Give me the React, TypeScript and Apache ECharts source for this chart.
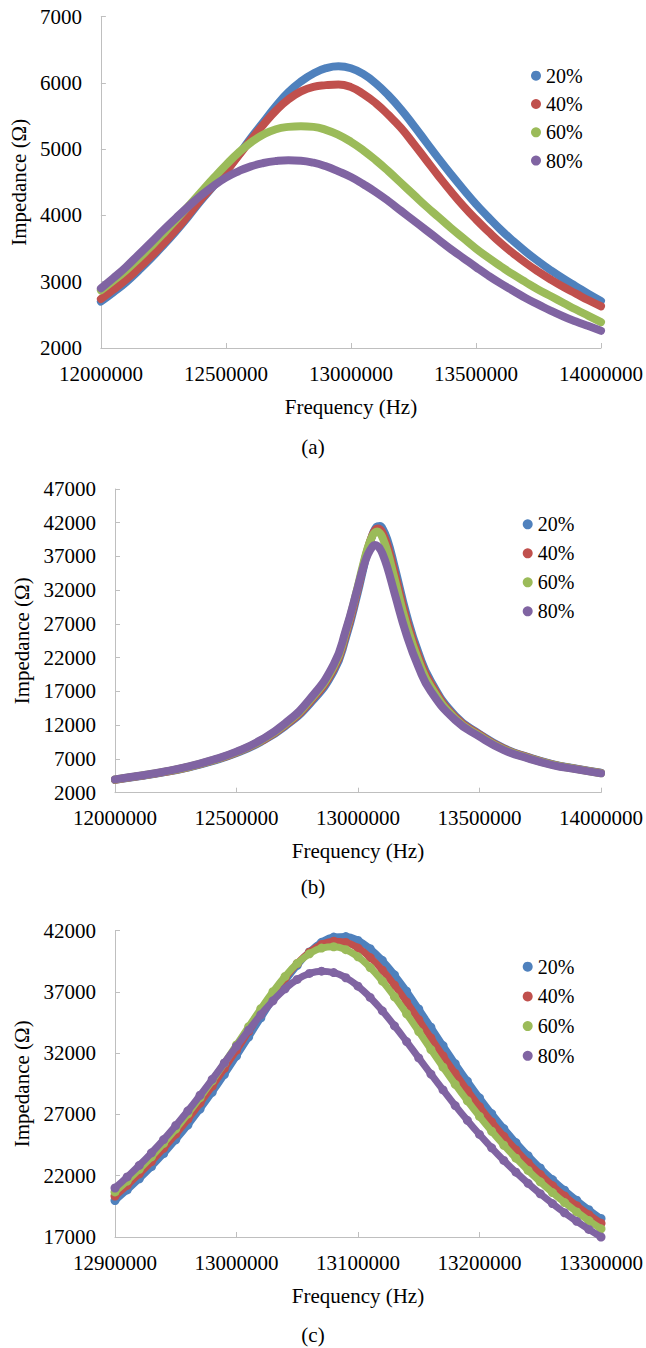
import React, { useEffect, useRef } from "react";
import * as echarts from "echarts";

const seriesNames = ["20%", "40%", "60%", "80%"];
const colors = ["#4f81bd", "#c0504d", "#9bbb59", "#8064a2"];
const panelLabels = ["(a)", "(b)", "(c)"];
const xTitle = "Frequency (Hz)";
const yTitle = "Impedance (Ω)";

// tick values
const xTicksAB = [12000000, 12500000, 13000000, 13500000, 14000000];
const xTicksC = [12900000, 13000000, 13100000, 13200000, 13300000];
const yTicksA = [2000, 3000, 4000, 5000, 6000, 7000];
const yTicksB = [2000, 7000, 12000, 17000, 22000, 27000, 32000, 37000, 42000, 47000];
const yTicksC = [17000, 22000, 27000, 32000, 37000, 42000];

// panel (a)
const freqA = [12000000, 12050000, 12100000, 12150000, 12200000, 12250000, 12300000, 12350000, 12400000, 12450000, 12500000, 12550000, 12600000, 12650000, 12700000, 12750000, 12800000, 12850000, 12900000, 12950000, 13000000, 13050000, 13100000, 13150000, 13200000, 13250000, 13300000, 13350000, 13400000, 13450000, 13500000, 13550000, 13600000, 13650000, 13700000, 13750000, 13800000, 13850000, 13900000, 13950000, 14000000];
const a20 = [2700, 2840, 2990, 3165, 3350, 3550, 3760, 3985, 4220, 4440, 4660, 4910, 5170, 5410, 5650, 5860, 6020, 6140, 6220, 6250, 6220, 6130, 5990, 5810, 5600, 5360, 5110, 4860, 4620, 4390, 4170, 3970, 3780, 3610, 3450, 3305, 3170, 3045, 2930, 2815, 2710];
const a40 = [2740, 2880, 3030, 3200, 3380, 3575, 3780, 4005, 4240, 4450, 4660, 4900, 5140, 5370, 5580, 5750, 5870, 5940, 5965, 5975, 5935, 5830, 5690, 5515, 5320, 5085, 4840, 4595, 4360, 4140, 3940, 3755, 3580, 3425, 3280, 3150, 3030, 2920, 2820, 2720, 2630];
const a60 = [2870, 3015, 3170, 3345, 3530, 3725, 3930, 4140, 4350, 4560, 4760, 4945, 5100, 5220, 5300, 5335, 5345, 5335, 5290, 5215, 5110, 4980, 4830, 4665, 4490, 4315, 4140, 3975, 3810, 3655, 3500, 3360, 3230, 3105, 2990, 2880, 2780, 2680, 2580, 2485, 2390];
const a80 = [2900, 3055, 3220, 3405, 3590, 3780, 3960, 4135, 4300, 4445, 4570, 4665, 4740, 4790, 4820, 4832, 4825, 4795, 4740, 4665, 4580, 4470, 4350, 4215, 4070, 3925, 3780, 3635, 3490, 3355, 3220, 3090, 2970, 2860, 2750, 2655, 2560, 2475, 2400, 2330, 2260];

// panel (b)
const freqB = [12000000, 12100000, 12200000, 12300000, 12400000, 12500000, 12600000, 12700000, 12800000, 12900000, 12950000, 13000000, 13020000, 13040000, 13060000, 13070000, 13080000, 13090000, 13100000, 13120000, 13150000, 13200000, 13250000, 13300000, 13400000, 13500000, 13600000, 13700000, 13800000, 13900000, 14000000];
const b20 = [3900, 4430, 5010, 5730, 6680, 7880, 9530, 11850, 15100, 19980, 24930, 31770, 34880, 37880, 40260, 41050, 41480, 41520, 41200, 39580, 35610, 28360, 22630, 18510, 13400, 10700, 8600, 7290, 6250, 5560, 4950];
const b40 = [3930, 4460, 5040, 5770, 6730, 7950, 9620, 11980, 15350, 20340, 25390, 32250, 35300, 38130, 40250, 40880, 41140, 41040, 40580, 38780, 34730, 27640, 22110, 18130, 13200, 10600, 8520, 7230, 6210, 5530, 4920];
const b60 = [3960, 4490, 5080, 5810, 6780, 8010, 9710, 12120, 15600, 20680, 25810, 32670, 35630, 38270, 40110, 40580, 40690, 40450, 39870, 37890, 33770, 26840, 21500, 17670, 13000, 10450, 8420, 7160, 6150, 5500, 4890];
const b80 = [3980, 4520, 5110, 5850, 6840, 8080, 9800, 12270, 15800, 21000, 26100, 32560, 35140, 37260, 38510, 38700, 38580, 38160, 37470, 35460, 31620, 25370, 20530, 17000, 12770, 10300, 8320, 7090, 6100, 5460, 4870];

// panel (c)
const freqC = [12900000, 12910000, 12920000, 12930000, 12940000, 12950000, 12960000, 12970000, 12980000, 12990000, 13000000, 13010000, 13020000, 13030000, 13040000, 13050000, 13060000, 13070000, 13080000, 13090000, 13100000, 13110000, 13120000, 13130000, 13140000, 13150000, 13160000, 13170000, 13180000, 13190000, 13200000, 13210000, 13220000, 13230000, 13240000, 13250000, 13260000, 13270000, 13280000, 13290000, 13300000];
const c20 = [19980, 20840, 21750, 22740, 23800, 24930, 26140, 27440, 28810, 30260, 31770, 33320, 34880, 36420, 37880, 39180, 40260, 41050, 41480, 41520, 41200, 40530, 39580, 38400, 37060, 35610, 34120, 32620, 31150, 29730, 28360, 27070, 25850, 24710, 23630, 22630, 21690, 20820, 20000, 19230, 18510];
const c40 = [20340, 21220, 22160, 23160, 24240, 25390, 26620, 27930, 29310, 30760, 32250, 33780, 35300, 36770, 38130, 39310, 40250, 40880, 41140, 41040, 40580, 39810, 38780, 37550, 36180, 34730, 33250, 31780, 30350, 28960, 27640, 26390, 25220, 24110, 23070, 22110, 21200, 20350, 19560, 18820, 18130];
const c60 = [20680, 21570, 22530, 23550, 24650, 25810, 27060, 28370, 29750, 31190, 32670, 34160, 35630, 37020, 38270, 39330, 40110, 40580, 40690, 40450, 39870, 38990, 37890, 36610, 35220, 33770, 32300, 30860, 29460, 28120, 26840, 25630, 24490, 23430, 22430, 21500, 20630, 19810, 19050, 18340, 17670];
const c80 = [21000, 21900, 22850, 23870, 24950, 26100, 27300, 28570, 29870, 31210, 32560, 33880, 35140, 36280, 37260, 38020, 38510, 38700, 38580, 38160, 37470, 36550, 35460, 34240, 32950, 31620, 30300, 29000, 27730, 26520, 25370, 24280, 23250, 22290, 21380, 20530, 19730, 18980, 18280, 17620, 17000];

const FONT = "Liberation Serif";
const AXIS_GRAY = "#bfbfbf";

function xAxisCfg(gridIndex: number, ticks: number[]) {
  return {
    type: "value",
    gridIndex,
    min: ticks[0],
    max: ticks[ticks.length - 1],
    axisLine: { show: true, onZero: false, lineStyle: { color: AXIS_GRAY, width: 1 } },
    axisTick: { show: true, inside: true, length: 5, customValues: ticks, lineStyle: { color: AXIS_GRAY, width: 1 } },
    axisLabel: {
      show: true,
      customValues: ticks,
      formatter: (v: number) => String(v),
      color: "#000",
      fontFamily: FONT,
      fontSize: 21,
      margin: 15,
    },
    splitLine: { show: false },
    name: xTitle,
    nameLocation: "middle",
    nameGap: 48,
    nameTextStyle: { color: "#000", fontFamily: FONT, fontSize: 21 },
  };
}

function yAxisCfg(gridIndex: number, ticks: number[], nameGap: number) {
  return {
    type: "value",
    gridIndex,
    min: ticks[0],
    max: ticks[ticks.length - 1],
    axisLine: { show: true, onZero: false, lineStyle: { color: AXIS_GRAY, width: 1 } },
    axisTick: { show: true, inside: true, length: 5, customValues: ticks, lineStyle: { color: AXIS_GRAY, width: 1 } },
    axisLabel: {
      show: true,
      customValues: ticks,
      formatter: (v: number) => String(v),
      color: "#000",
      fontFamily: FONT,
      fontSize: 21,
      margin: 19,
    },
    splitLine: { show: false },
    name: yTitle,
    nameLocation: "middle",
    nameRotate: 90,
    nameGap,
    nameTextStyle: { color: "#000", fontFamily: FONT, fontSize: 21 },
  };
}

function lineSeries(idx: number, freq: number[], vals: number[], gridIdx: number, dotted: boolean) {
  return {
    type: "line",
    name: seriesNames[idx],
    xAxisIndex: gridIdx,
    yAxisIndex: gridIdx,
    data: freq.map((f, i) => [f, vals[i]]),
    smooth: true,
    clip: false,
    showSymbol: dotted,
    symbol: "circle",
    symbolSize: 9,
    itemStyle: { color: colors[idx] },
    lineStyle: { color: colors[idx], width: dotted ? 7 : 8, cap: "round", join: "round" },
    emphasis: { disabled: true },
    silent: true,
    z: 2 + idx,
  };
}

function legendCfg(left: number, top: number, gap: number) {
  return {
    orient: "vertical",
    left,
    top,
    padding: 0,
    itemGap: gap,
    itemWidth: 10,
    itemHeight: 10,
    icon: "circle",
    selectedMode: false,
    data: seriesNames,
    textStyle: { color: "#000", fontFamily: FONT, fontSize: 20, lineHeight: 20 },
  };
}

export default function App() {
  const ref = useRef<HTMLDivElement>(null);
  useEffect(() => {
    if (!ref.current) return;
    const chart = echarts.init(ref.current, null, { renderer: "svg" });
    const aVals = [a20, a40, a60, a80];
    const bVals = [b20, b40, b60, b80];
    const cVals = [c20, c40, c60, c80];
    const series: any[] = [];
    aVals.forEach((v, i) => series.push(lineSeries(i, freqA, v, 0, false)));
    bVals.forEach((v, i) => series.push(lineSeries(i, freqB, v, 1, false)));
    cVals.forEach((v, i) => series.push(lineSeries(i, freqC, v, 2, true)));
    const labelY = [447, 887, 1335];
    chart.setOption({
      animation: false,
      backgroundColor: "#fff",
      textStyle: { fontFamily: FONT },
      grid: [
        { left: 97.7, top: 16.5, width: 505.3, height: 331.5 },
        { left: 115, top: 489, width: 488, height: 303.7 },
        { left: 115, top: 930.7, width: 488, height: 306.3 },
      ],
      xAxis: [xAxisCfg(0, xTicksAB), xAxisCfg(1, xTicksAB), xAxisCfg(2, xTicksC)],
      yAxis: [yAxisCfg(0, yTicksA, 69), yAxisCfg(1, yTicksB, 80), yAxisCfg(2, yTicksC, 80)],
      legend: [legendCfg(531, 65.7, 8.3), legendCfg(522.7, 514.3, 9), legendCfg(522.7, 956.7, 9.7)],
      graphic: panelLabels.map((t, i) => ({
        type: "text",
        x: 313,
        y: labelY[i],
        style: {
          text: t,
          font: `21px ${FONT}`,
          fill: "#000",
          align: "center",
          verticalAlign: "middle",
          textAlign: "center",
          textVerticalAlign: "middle",
        },
      })),
      series,
    });
    return () => chart.dispose();
  }, []);
  return (
    <div
      ref={ref}
      style={{ position: "absolute", left: 0, top: 0, width: 646, height: 1348, background: "#fff" }}
    />
  );
}
